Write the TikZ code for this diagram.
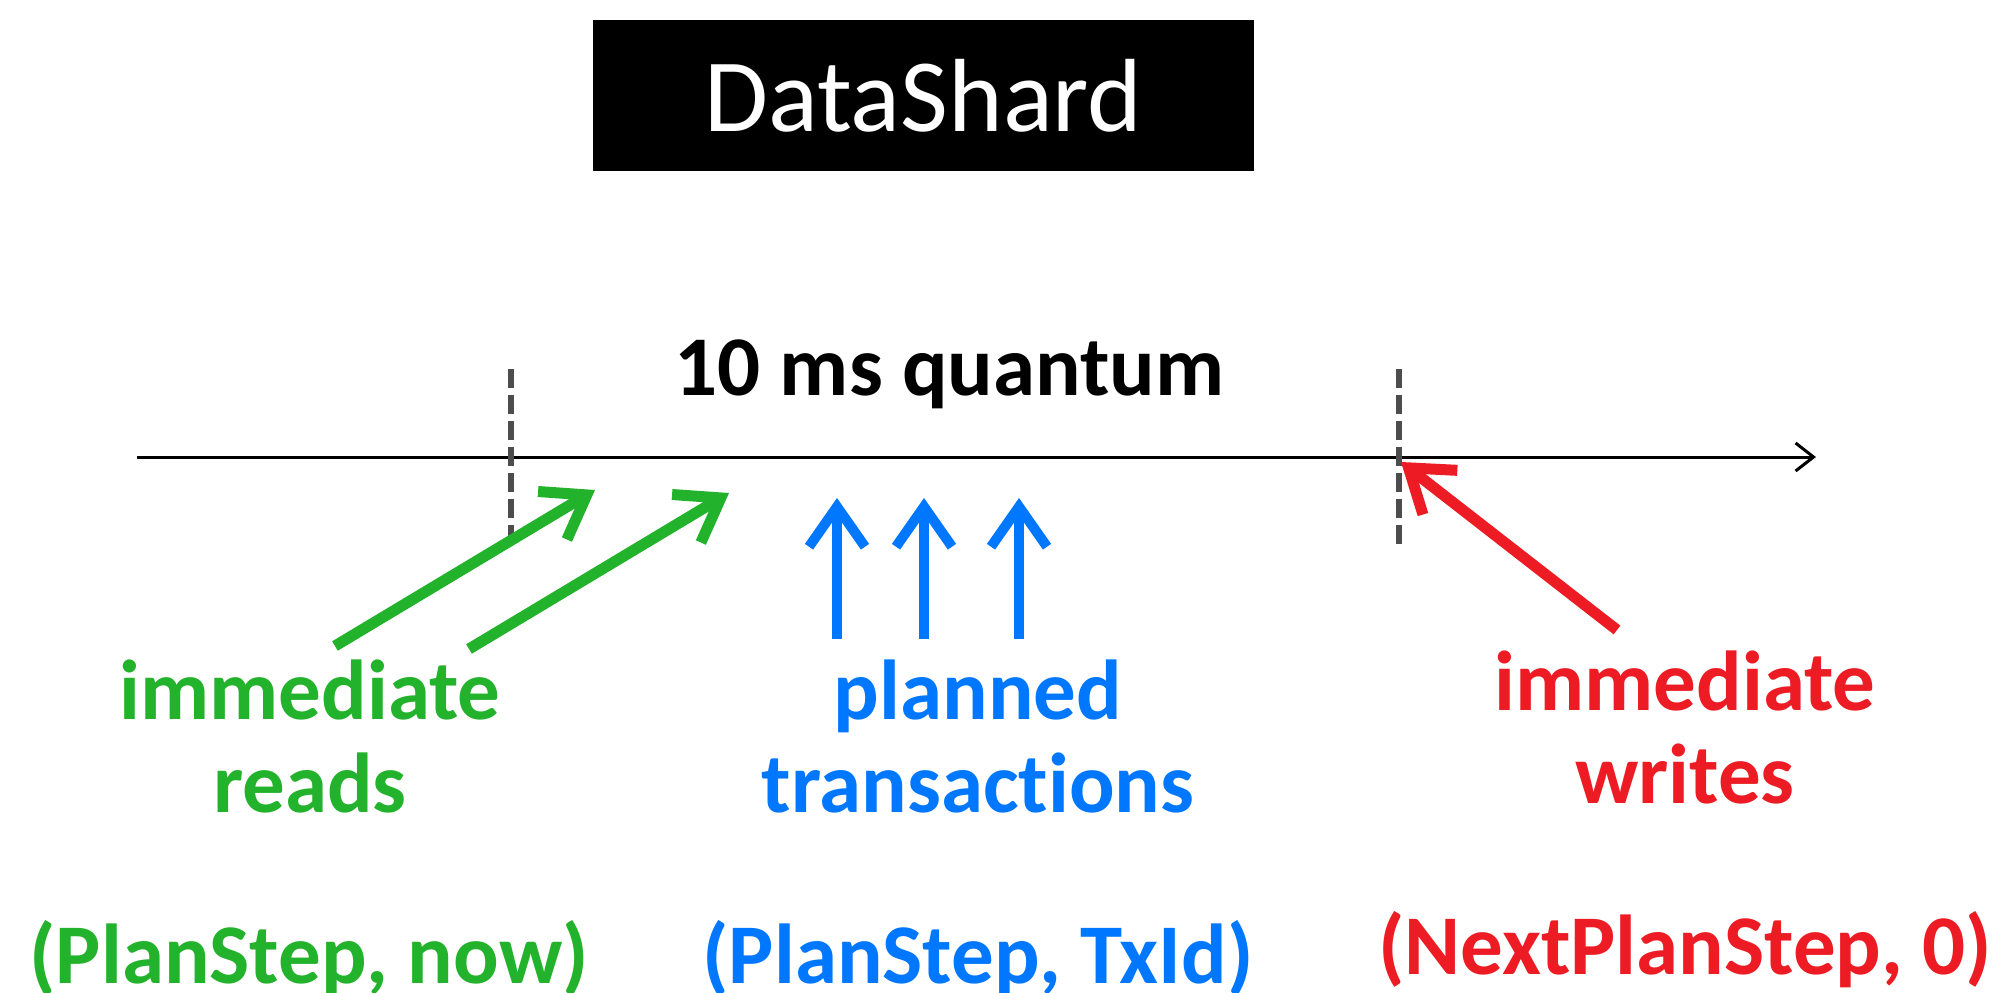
\documentclass[tikz,border=0pt]{standalone}
\usepackage{fontspec}
\setmainfont{Carlito}[Ligatures={NoCommon}]
\usetikzlibrary{arrows.meta}
\definecolor{cgreen}{HTML}{22B22B}
\definecolor{cblue}{HTML}{0077FF}
\definecolor{cred}{HTML}{ED1C24}
\definecolor{cgray}{HTML}{4D4D4D}
\begin{document}
\begin{tikzpicture}[x=1pt,y=-1pt,
  lbl/.style={font=\fontsize{85}{93}\selectfont\bfseries, align=center, anchor=base, inner sep=0pt},
  colarrow/.style={line width=11pt, -{Straight Barb[length=40pt,width=56pt]}},
  axisline/.style={line width=3pt, -{Straight Barb[length=18pt,width=28pt]}},
  boundary/.style={cgray, line width=6pt, dash pattern=on 19pt off 7pt},
  titlebox/.style={fill=black, text=white, minimum width=661pt, minimum height=151pt, inner sep=0pt, font=\fontsize{104}{104}\selectfont}
]
\useasboundingbox (0,0) rectangle (2003,993);
\fill[white] (0,0) rectangle (2003,993);

\node[titlebox] (ds) at (923.5,95.5) {DataShard};

% time axis
\coordinate (axL) at (137,457);
\coordinate (axR) at (1816,457);
\draw[axisline] (axL) -- (axR);

% quantum boundaries
\coordinate (d1t) at (511,369);
\coordinate (d1b) at (511,549);
\coordinate (d2t) at (1399,369);
\coordinate (d2b) at (1399,549);
\draw[boundary] (d1t) -- (d1b);
\draw[boundary] (d2t) -- (d2b);

\node[lbl, text=black] (quant) at (949.5,395) {10 ms quantum};

% immediate reads
\coordinate (g1s) at (335,646);
\coordinate (g1e) at (595,490);
\coordinate (g2s) at (469,649);
\coordinate (g2e) at (729,493);
\draw[colarrow, cgreen] (g1s) -- (g1e);
\draw[colarrow, cgreen] (g2s) -- (g2e);

% planned transactions
\coordinate (b1s) at (837,639);
\coordinate (b1e) at (837,498);
\coordinate (b2s) at (924,639);
\coordinate (b2e) at (924,498);
\coordinate (b3s) at (1019,639);
\coordinate (b3e) at (1019,498);
\draw[colarrow, cblue, line width=10pt] (b1s) -- (b1e);
\draw[colarrow, cblue, line width=10pt] (b2s) -- (b2e);
\draw[colarrow, cblue, line width=10pt] (b3s) -- (b3e);

% immediate writes
\coordinate (rs) at (1617,630);
\coordinate (re) at (1401,462);
\draw[colarrow, cred] (rs) -- (re);

% labels (anchor base = baseline of the last line)
\node[lbl, text=cgreen] (rdl) at (310,812) {immediate\\reads};
\node[lbl, text=cgreen] (rdv) at (309,983) {(PlanStep, now)};
\node[lbl, text=cblue] (ptl) at (978,812) {planned\\transactions};
\node[lbl, text=cblue] (ptv) at (978,983) {(PlanStep, TxId)};
\node[lbl, text=cred] (wrl) at (1685,803) {immediate\\writes};
\node[lbl, text=cred] (wrv) at (1685,974) {(NextPlanStep, 0)};
\end{tikzpicture}
\end{document}
